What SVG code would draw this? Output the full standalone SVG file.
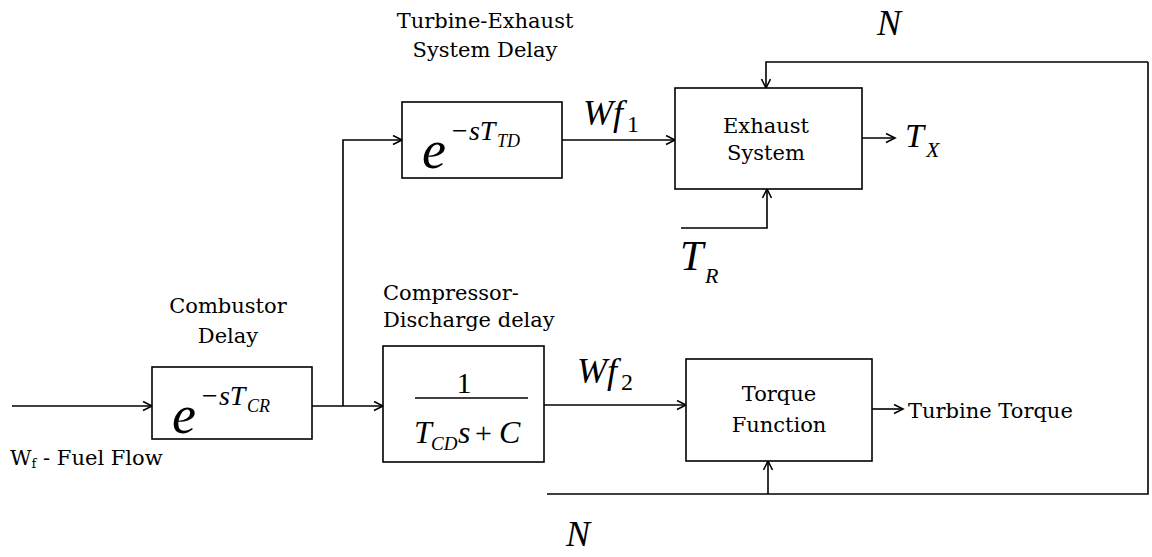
<svg xmlns="http://www.w3.org/2000/svg" width="1152" height="557" viewBox="0 0 1152 557">
<style>
.box{fill:#fff;stroke:#000;stroke-width:1.6}
.ln{fill:none;stroke:#000;stroke-width:1.6}
.t{font-family:'DejaVu Serif',serif;font-size:21px;fill:#000}
.m{font-family:'Liberation Serif','Times New Roman',serif;font-style:italic;fill:#000}
.r{font-family:'Liberation Serif','Times New Roman',serif;fill:#000}
</style>
<defs>
<marker id="ah" markerUnits="userSpaceOnUse" markerWidth="12" markerHeight="12" refX="10" refY="5" orient="auto">
<path d="M1,0.5 L10,5 L1,9.5" fill="none" stroke="#000" stroke-width="1.6"/>
</marker>
</defs>
<rect width="1152" height="557" fill="#fff"/>
<g id="connectors">
<line class="ln" x1="12" y1="406" x2="152" y2="406" marker-end="url(#ah)"/>
<line class="ln" x1="312" y1="406" x2="383" y2="406" marker-end="url(#ah)"/>
<polyline class="ln" points="343,406 343,140 402,140" marker-end="url(#ah)"/>
<line class="ln" x1="562" y1="140" x2="675" y2="140" marker-end="url(#ah)"/>
<line class="ln" x1="544" y1="405" x2="686" y2="405" marker-end="url(#ah)"/>
<line class="ln" x1="862" y1="138" x2="895" y2="138" marker-end="url(#ah)"/>
<line class="ln" x1="872" y1="409" x2="903" y2="409" marker-end="url(#ah)"/>
<polyline class="ln" points="681,228 767,228 767,189" marker-end="url(#ah)"/>
<polyline class="ln" points="1148,62 766,62 766,88" marker-end="url(#ah)"/>
<polyline class="ln" points="547,494 1148,494 1148,62"/>
<line class="ln" x1="768" y1="494" x2="768" y2="461" marker-end="url(#ah)"/>
</g>
<g id="combustor">
<text class="t" x="228" y="313" text-anchor="middle">Combustor</text>
<text class="t" x="228" y="343" text-anchor="middle">Delay</text>
<rect class="box" x="152" y="367" width="160" height="72"/>
<text class="m" x="172" y="433" font-size="54">e</text>
<text class="m" x="200" y="405" font-size="28">−sT</text>
<text class="m" x="247" y="412" font-size="18">CR</text>
</g>
<g id="turbine-exhaust-delay">
<text class="t" x="485" y="28" text-anchor="middle">Turbine-Exhaust</text>
<text class="t" x="485" y="57" text-anchor="middle">System Delay</text>
<rect class="box" x="402" y="102" width="160" height="76"/>
<text class="m" x="422" y="168" font-size="54">e</text>
<text class="m" x="450" y="140" font-size="28">−sT</text>
<text class="m" x="497" y="147" font-size="18">TD</text>
</g>
<g id="compressor-discharge">
<text class="t" x="383" y="300">Compressor-</text>
<text class="t" x="383" y="327" font-size="20">Discharge delay</text>
<rect class="box" x="383" y="346" width="161" height="116"/>
<text class="r" x="464" y="393" font-size="30" text-anchor="middle">1</text>
<line class="ln" x1="415" y1="398" x2="528" y2="398"/>
<text class="m" x="414" y="443" font-size="32">T</text>
<text class="m" x="431" y="450" font-size="19">CD</text>
<text class="m" x="458" y="443" font-size="32">s</text>
<text class="r" x="475" y="443" font-size="30">+</text>
<text class="m" x="499" y="443" font-size="32">C</text>
</g>
<g id="exhaust-system">
<rect class="box" x="675" y="88" width="187" height="101"/>
<text class="t" x="766" y="133" text-anchor="middle">Exhaust</text>
<text class="t" x="766" y="160" text-anchor="middle">System</text>
</g>
<g id="torque-function">
<rect class="box" x="686" y="359" width="186" height="102"/>
<text class="t" x="779" y="401" text-anchor="middle">Torque</text>
<text class="t" x="779" y="432" text-anchor="middle">Function</text>
</g>
<g id="labels">
<text class="m" x="583" y="125" font-size="36">Wf</text>
<text class="r" x="627" y="132" font-size="24">1</text>
<text class="m" x="577" y="383" font-size="36">Wf</text>
<text class="r" x="621" y="390" font-size="24">2</text>
<text class="m" x="877" y="35" font-size="36">N</text>
<text class="m" x="566" y="546" font-size="36">N</text>
<text class="m" x="905" y="147" font-size="34">T</text>
<text class="m" x="926" y="157" font-size="22">X</text>
<text class="m" x="680" y="270" font-size="42">T</text>
<text class="m" x="705" y="283" font-size="22">R</text>
<text class="t" x="908" y="418">Turbine Torque</text>
<text class="t" x="10" y="465" font-size="22">W<tspan font-size="13" dy="3">f</tspan><tspan dy="-3"> - Fuel Flow</tspan></text>
</g>
</svg>
